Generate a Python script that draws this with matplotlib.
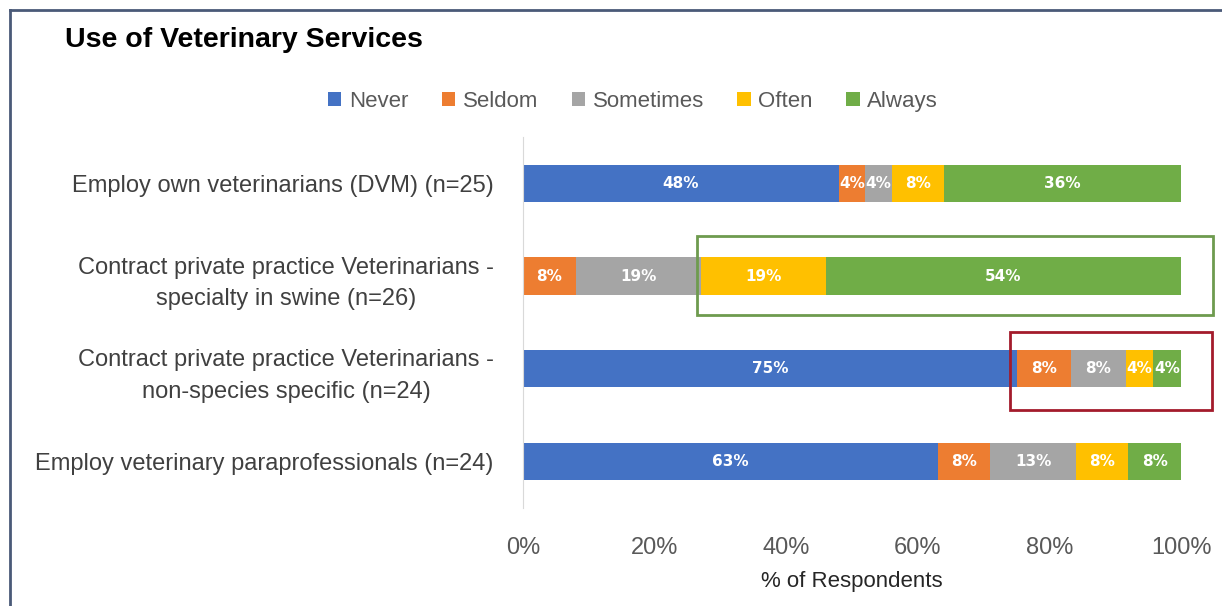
import numpy as np
import matplotlib.pyplot as plt
from matplotlib.patches import Rectangle
from matplotlib.lines import Line2D
from matplotlib.ticker import PercentFormatter

# survey answers, % of respondents
categories = [
    "Employ own veterinarians (DVM) (n=25)",
    "Contract private practice Veterinarians -\nspecialty in swine (n=26)",
    "Contract private practice Veterinarians -\nnon-species specific (n=24)",
    "Employ veterinary paraprofessionals (n=24)",
]
answers = ["Never", "Seldom", "Sometimes", "Often", "Always"]
never = [48, 0, 75, 63]
seldom = [4, 8, 8.3, 8]
sometimes = [4, 19, 8.3, 13]
often = [8, 19, 4.2, 8]
always = [36, 54, 4.2, 8]
ticks = [0, 20, 40, 60, 80, 100]

colors = ["#4472C4", "#ED7D31", "#A5A5A5", "#FFC000", "#70AD47"]
narrow = ["Liberation Sans Narrow", "Liberation Sans", "DejaVu Sans"]

fig = plt.figure(figsize=(12.22, 6.06), dpi=100)
ax = fig.add_axes([0.428, 0.162, 0.5385, 0.612])

y = np.arange(len(categories))
left = np.zeros(len(categories))
for name, vals, col in zip(answers, [never, seldom, sometimes, often, always], colors):
    vals = np.array(vals, dtype=float)
    ax.barh(y, vals, left=left, height=0.4, color=col, label=name)
    for yi, l, v in zip(y, left, vals):
        if v > 0:
            ax.text(l + v / 2, yi, f"{v:.0f}%", ha="center", va="center",
                    color="white", fontsize=11, fontweight="bold")
    left += vals

ax.set_ylim(3.5, -0.5)
ax.set_xlim(0, 100)
ax.set_yticks(y)
ax.set_yticklabels(categories, fontsize=17, color="#404040", family=narrow,
                   linespacing=1.55, multialignment="center")
ax.set_xticks(ticks)
ax.xaxis.set_major_formatter(PercentFormatter(decimals=0))
for lab in ax.get_xticklabels():
    lab.set_family(narrow)
    lab.set_fontsize(17)
    lab.set_color("#595959")
ax.tick_params(axis="both", length=0)
ax.tick_params(axis="x", pad=21)
ax.tick_params(axis="y", pad=21)
ax.set_xlabel("% of Respondents", fontsize=16, family=narrow, color="#262626",
              labelpad=9)

for side in ["top", "right", "bottom"]:
    ax.spines[side].set_visible(False)
ax.spines["left"].set_color("#D9D9D9")

# highlight boxes around the swine-specialist and non-specific rows
ax.add_patch(Rectangle((26.5, 0.57), 78.4, 0.85, fill=False, edgecolor="#6E9B4E",
                       linewidth=2, clip_on=False))
ax.add_patch(Rectangle((74.0, 1.6), 30.7, 0.85, fill=False, edgecolor="#A31B2B",
                       linewidth=2, clip_on=False))

leg = ax.legend(loc="center", bbox_to_anchor=(0.518, 0.833), bbox_transform=fig.transFigure,
                ncol=5, frameon=False, handlelength=0.6, handleheight=0.6,
                handletextpad=0.35, columnspacing=1.5,
                prop={"family": narrow, "size": 16})
for t in leg.get_texts():
    t.set_color("#595959")

fig.text(0.053, 0.934, "Use of Veterinary Services", fontsize=20.5, fontweight="bold",
         family=["Liberation Sans", "DejaVu Sans"], va="center")

# outer frame on the top and left
fig.add_artist(Line2D([0.008, 1.0], [0.983, 0.983], color="#4A5A78", linewidth=2))
fig.add_artist(Line2D([0.008, 0.008], [0.0, 0.983], color="#4A5A78", linewidth=2))

fig.savefig("out.png", dpi=100)
